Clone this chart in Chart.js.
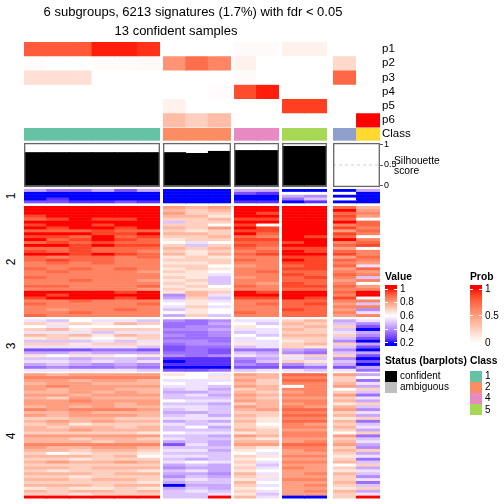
<!DOCTYPE html>
<html lang="en">
<head>
  <meta charset="UTF-8" />
  <title>Subgroup signatures heatmap</title>
  <script src="https://cdn.jsdelivr.net/npm/chart.js"></script>
  <style>
    body { margin: 0; background: #fff; font-family: "Liberation Sans", Arial, sans-serif; }
    #wrap { position: relative; width: 504px; height: 504px; overflow: hidden; }
    #wrap canvas { position: absolute; top: 0; }
    .t { position: absolute; white-space: nowrap; color: #000; line-height: 1; }
    .c { transform: translate(-50%, -50%); }
    .l { transform: translate(0, -50%); }
    .b { font-weight: bold; }
    .sw { position: absolute; }
  </style>
</head>
<body>
<div id="wrap"></div>

<script>
// ---- data ----
const sampleClass = [1, 1, 1, 1, 1, 1, 2, 2, 2, 4, 4, 5, 5, 3, 6];
const blockCols = [6, 3, 2, 2, 2];
const confident = [1, 1, 1, 1, 1, 1, 1, 1, 1, 1, 1, 1, 1, 0, 0];

const probNames = ["p1", "p2", "p3", "p4", "p5", "p6"];
const p1 = [0.8, 0.8, 0.8, 0.97, 0.97, 0.93, 0, 0, 0, 0.02, 0.02, 0.07, 0.07, 0, 0];
const p2 = [0.02, 0, 0, 0.015, 0.015, 0.03, 0.55, 0.72, 0.62, 0.07, 0, 0, 0, 0.2, 0];
const p3 = [0.17, 0.17, 0.17, 0, 0, 0, 0, 0, 0, 0.02, 0, 0, 0, 0.75, 0];
const p4 = [0, 0, 0, 0, 0, 0, 0, 0, 0.015, 0.85, 0.97, 0, 0, 0, 0];
const p5 = [0, 0, 0, 0, 0, 0, 0.07, 0, 0, 0, 0, 0.9, 0.9, 0, 0];
const p6 = [0, 0, 0, 0, 0, 0, 0.35, 0.25, 0.35, 0, 0, 0, 0, 0, 1];

const silhouette = [0.81, 0.81, 0.81, 0.81, 0.81, 0.81, 0.81, 0.79, 0.84, 0.86, 0.86, 0.96, 0.96, 0, 0];
const silTicks = [0, 0.5, 1];

const classColors = { 1: "#66C2A5", 2: "#FC8D62", 3: "#8DA0CB", 4: "#E78AC3", 5: "#A6D854", 6: "#FFD92F" };
const classLegend = [1, 2, 4, 5];
const valueTicks = [1, 0.8, 0.6, 0.4, 0.2];
const probTicks = [1, 0.5, 0];
const rowTitles = ["1", "2", "3", "4"];

// heatmap rows: one letter per sample, a = 0.20, b = 0.25 ... i = 0.60 ... q = 1.00
const heatRows1 = [
  "fddfcf aaa ff aa af",
  "aaaaaa aaa cb ii ia",
  "aaaaaa aaa aa fe aa",
  "abaaaa aaa aa dg ia",
  "ccbbcb aaa bb ab aa"
];
const heatRows2 = [
  "qqqqqq mlm qq qq ol",
  "qqqqqq lkl qq qq qm",
  "qqqqqq mkk qp qq on",
  "pqqqqq llj qq qq pm",
  "opqppq kkl pp qq oi",
  "qqqqqq gkk qq qq qo",
  "pqqpqq kki pi qq no",
  "qpqqpq lkm qp qq pn",
  "ooopoo kjk pp qq mo",
  "qqqppq llk qo qq pn",
  "ppoqop kkl on qp oi",
  "qopqpo jkk pp qq qn",
  "opopoo ihi oo pq no",
  "qqpqpp kgk po qq op",
  "oopooo lkl on pp mi",
  "popoon kjk no qp on",
  "qqpqpo ljl op qq pn",
  "onoono jkj nn pp mo",
  "opoonn kkk on qp on",
  "nononn jjk nn pp nm",
  "nnnnnn kki mn op oh",
  "ononon jkj nn pp mo",
  "nonnnm kji no oo nm",
  "nnnnnn jjh nn po on",
  "onnnnn kjg mn op ng",
  "nnonnm jkg nn oo mn",
  "nnnnnn kjg nm po ni",
  "oonnno jki on pp om",
  "nnnnnm kjj nn oo nn",
  "qqqqpq jlk qp qq oq",
  "qpqqqq elh qq qq nq",
  "pqqqpq fkg pp qp pi",
  "nnonnn hjh nn oo nn",
  "onnnno iji no op mg",
  "nnnnnn hkh nn oo nn",
  "nmnnon gji nn po me",
  "nnonnn iji on oo nh",
  "onnnnn fkg nn oo mn"
];
const heatRows3 = [
  "hgihhg ede hh kl fh",
  "kjkjlk ddf ig lk ge",
  "ihiiii dee ji kl kc",
  "kljkkk eef hh lk ga",
  "hhhghh dde gh kk hf",
  "lkljlk ede ig ll ke",
  "jkjijk ddd hi kk gc",
  "ggghgh eed hh jk ea",
  "kkjkkj dee jh kl kf",
  "hhhhhg cdd gh kj gc",
  "cccddc cdc dd fe ea",
  "ffgfff ddc gf ed gf",
  "jijjij ede hg jk kc",
  "ggfggf bbb ef hg ea",
  "hhghgh abb dg kj gc",
  "fgfefe bbb ed eg fa",
  "dedded aaa cc cd cf",
  "hhhhhg ccd gh hg hd"
];
const heatRows4 = [
  "mlmmmm jih ml oo mf",
  "nnnnnn iij ll nn ki",
  "mmlmml hhh mk oo kd",
  "lmmlll ihi lk nn lh",
  "mnmmmm hhg ml in mf",
  "mlmmll ghf kl nn ik",
  "llmlml ffg lk mn kg",
  "mmlmmm ghf ml nn md",
  "lkmlll ggg lk mm kh",
  "mmnmmm ihh ml nn lf",
  "mmmmlm ggf kl mn jk",
  "lmlmll hhg ml nm lg",
  "nmnnnm ghg lm oo me",
  "llmlll ffg kk nn kh",
  "mlmmml ghf lk oo lf",
  "kkllkk hhh kj nn jk",
  "lmlmll fgf lj oo ld",
  "kljkkk hgh ki nm kg",
  "lkllkl gif kj nn lh",
  "llmlll ggg lk mm kf",
  "kkkkkj ihh jk nn ik",
  "mmmmmm ggf ml nn md",
  "llkllk hgg kj mm kg",
  "lllkll fgf ll mn lh",
  "nnnnnn chf mm oo mf",
  "mllmml ggg kj nn ke",
  "llkllk hhf ji mn lk",
  "kijkkj ggg ih mm kf",
  "lllkli hhg kj nn jh",
  "kkjkkk gfg ji mm kd",
  "lmllml hih kh nn lg",
  "kkkkkk fgf jg mm ik",
  "llklll eff kh nm kf",
  "kjkkkj ghf ji mm jh",
  "lllkll ffe lh mn lg",
  "kkjkkk egf kj mm ke",
  "llkllk ghg jh nn kh",
  "kkkkkj fgg li mm ld",
  "lllkll aff kh mn kg",
  "jkjjkj fgf ji mm jk",
  "lkllkl ghg kh mn lf",
  "kkjkkk ggh jg mm kh",
  "qqqqqq ggq lh aa kq"
];

// ---- layout ----
const FONT = '"Liberation Sans", Arial, sans-serif';
const blockLeft = [24, 163, 234, 282, 333];
const blockWidth = [136, 68, 45, 45, 47];
const annTop = 42, annH = 14.25;
const classTop = 128, classBottom = 140.7;
const silPixTop = 144.3, silPixBottom = 185.7;
const groupBox = [[189, 203.3], [206, 317], [319.3, 371.7], [373.2, 498.5]];
const axisW = 22;
const seam = 0.5;   // overlap so neighbouring cells leave no hairline

// ---- colours (LAB interpolation like colorRamp2) ----
function hexToRgb(h) { return [1, 3, 5].map(i => parseInt(h.substr(i, 2), 16)); }
function lin(c) { c /= 255; return c <= 0.04045 ? c / 12.92 : Math.pow((c + 0.055) / 1.055, 2.4); }
function gam(c) {
  c = c <= 0.0031308 ? 12.92 * c : 1.055 * Math.pow(c, 1 / 2.4) - 0.055;
  return Math.round(Math.max(0, Math.min(1, c)) * 255);
}
function rgbToLab(rgb) {
  const [r, g, b] = rgb.map(lin);
  const x = (r * 0.4124564 + g * 0.3575761 + b * 0.1804375) / 0.95047;
  const y = r * 0.2126729 + g * 0.7151522 + b * 0.0721750;
  const z = (r * 0.0193339 + g * 0.1191920 + b * 0.9503041) / 1.08883;
  const f = t => t > 0.008856 ? Math.cbrt(t) : 7.787 * t + 16 / 116;
  return [116 * f(y) - 16, 500 * (f(x) - f(y)), 200 * (f(y) - f(z))];
}
function labToRgb([L, a, b]) {
  const fy = (L + 16) / 116, fx = fy + a / 500, fz = fy - b / 200;
  const fi = t => t * t * t > 0.008856 ? t * t * t : (t - 16 / 116) / 7.787;
  const x = fi(fx) * 0.95047, y = fi(fy), z = fi(fz) * 1.08883;
  return [
    3.2404542 * x - 1.5371385 * y - 0.4985314 * z,
    -0.9692660 * x + 1.8760108 * y + 0.0415560 * z,
    0.0556434 * x - 0.2040259 * y + 1.0572252 * z
  ].map(gam);
}
function makeRamp(breaks, hexes) {
  const labs = hexes.map(h => rgbToLab(hexToRgb(h)));
  return v => {
    v = Math.max(breaks[0], Math.min(breaks[breaks.length - 1], v));
    let i = 0;
    while (i < breaks.length - 2 && v > breaks[i + 1]) i++;
    const t = (v - breaks[i]) / (breaks[i + 1] - breaks[i]);
    const lab = labs[i].map((c, k) => c + (labs[i + 1][k] - c) * t);
    const rgb = labToRgb(lab);
    return "rgb(" + rgb.join(",") + ")";
  };
}
const heatColor = makeRamp([0.2, 0.6, 1], ["#0000FF", "#FFFFFF", "#FF0000"]);
const probColor = makeRamp([0, 1], ["#FFFFFF", "#FF0000"]);
const decode = ch => 0.2 + (ch.charCodeAt(0) - 97) * 0.05;

// ---- charts, one per column block ----
const wrap = document.getElementById("wrap");
const probRows = [p1, p2, p3, p4, p5, p6];
const heatGroups = [heatRows1, heatRows2, heatRows3, heatRows4];
const lastBlock = blockCols.length - 1;

// silhouette axis range so that 0..1 sits in the annotation box
const silPerUnit = silPixBottom - silPixTop;
const silMax = silPixBottom / silPerUnit;
const silMin = silMax - 504 / silPerUnit;

const silBox = {
  id: "silBox",
  beforeDatasetsDraw(chart) {
    const ys = chart.scales.ys, a = chart.chartArea, ctx = chart.ctx;
    ctx.save();
    ctx.strokeStyle = "#cfcfcf";
    ctx.lineWidth = 1;
    ctx.setLineDash([3, 3]);
    ctx.beginPath();
    const y = ys.getPixelForValue(0.5);
    ctx.moveTo(a.left, y);
    ctx.lineTo(a.right, y);
    ctx.stroke();
    ctx.restore();
  },
  afterDatasetsDraw(chart) {
    const ys = chart.scales.ys, a = chart.chartArea, ctx = chart.ctx;
    const y1 = ys.getPixelForValue(1), y0 = ys.getPixelForValue(0);
    ctx.save();
    ctx.strokeStyle = "#666";
    ctx.lineWidth = 1.3;
    ctx.strokeRect(a.left + 0.7, y1 - 0.7, a.right - a.left - 1.4, y0 - y1 + 1.4);
    ctx.restore();
  }
};

function bar(data, colors, axis) {
  return {
    data: data, backgroundColor: colors, yAxisID: axis || "y",
    grouped: false, barPercentage: 1.04, categoryPercentage: 1,
    borderWidth: 0, inflateAmount: 0
  };
}

let start = 0;
blockCols.forEach((n, b) => {
  const idx = Array.from({ length: n }, (_, k) => start + k);
  start += n;
  const datasets = [];
  const withAxis = b === lastBlock;

  // dataset 0 is painted last, so each row reaches a little up under the one before it
  probRows.forEach((vals, i) => {
    const top = annTop + i * annH - (i > 0 ? seam : 0);
    datasets.push(bar(idx.map(() => [top, annTop + (i + 1) * annH]),
                      idx.map(c => probColor(vals[c]))));
  });
  datasets.push(bar(idx.map(() => [classTop, classBottom]),
                    idx.map(c => classColors[sampleClass[c]])));
  datasets.push(bar(idx.map(c => silhouette[c]),
                    idx.map(c => confident[c] ? "#000000" : "#BEBEBE"), "ys"));

  heatGroups.forEach((rows, g) => {
    const [gTop, gBottom] = groupBox[g];
    const h = (gBottom - gTop) / rows.length;
    rows.forEach((s, r) => {
      const codes = s.replace(/ /g, "");
      const top = gTop + r * h - (r > 0 ? seam : 0);
      datasets.push(bar(idx.map(() => [top, gTop + (r + 1) * h]),
                        idx.map(c => heatColor(decode(codes[c])))));
    });
  });

  const canvas = document.createElement("canvas");
  const w = blockWidth[b] + (withAxis ? axisW : 0);
  canvas.width = w;
  canvas.height = 504;
  canvas.style.left = blockLeft[b] + "px";
  canvas.style.width = w + "px";
  canvas.style.height = "504px";
  wrap.appendChild(canvas);

  new Chart(canvas.getContext("2d"), {
    type: "bar",
    data: { labels: idx.map(c => "S" + (c + 1)), datasets: datasets },
    options: {
      responsive: false,
      animation: false,
      devicePixelRatio: 1,
      layout: { padding: 0 },
      plugins: { legend: { display: false }, tooltip: { enabled: false }, title: { display: false } },
      scales: {
        x: { type: "category", display: false, stacked: true, offset: true },
        y: { type: "linear", min: 0, max: 504, reverse: true, display: false },
        ys: {
          type: "linear", position: "right", min: silMin, max: silMax,
          display: withAxis,
          afterBuildTicks: s => { s.ticks = silTicks.map(v => ({ value: v })); },
          afterFit: s => {
            if (!withAxis) return;
            s.width = axisW; s.paddingTop = 0; s.paddingBottom = 0;
          },
          grid: { drawOnChartArea: false, drawTicks: true, tickLength: 3, color: "#333", lineWidth: 0.8 },
          border: { display: false },
          ticks: { font: { size: 9, family: FONT }, color: "#000", padding: 1, callback: v => String(v) }
        }
      }
    },
    plugins: [silBox]
  });
});

// ---- texts ----
function text(str, x, y, cls, size, extra) {
  const d = document.createElement("div");
  d.className = "t " + cls;
  d.textContent = str;
  d.style.left = x + "px";
  d.style.top = y + "px";
  d.style.fontSize = size + "px";
  if (extra) Object.assign(d.style, extra);
  wrap.appendChild(d);
  return d;
}
function box(x, y, w, h, bg) {
  const d = document.createElement("div");
  d.className = "sw";
  Object.assign(d.style, { left: x + "px", top: y + "px", width: w + "px", height: h + "px", background: bg });
  wrap.appendChild(d);
  return d;
}

text("6 subgroups, 6213 signatures (1.7%) with fdr < 0.05", 193, 11, "c", 13);
text("13 confident samples", 176, 29.5, "c", 13);

probNames.forEach((p, i) => text(p, 382, annTop + (i + 0.5) * annH, "l", 11.5));
text("Class", 382, (classTop + classBottom) / 2, "l", 11.5);
text("Silhouette", 394, 160.5, "l", 10.3);
text("score", 394, 171, "l", 10.3);

rowTitles.forEach((r, g) => {
  const [top, bottom] = groupBox[g];
  text(r, 11, (top + bottom) / 2, "c", 12, { transform: "translate(-50%,-50%) rotate(-90deg)" });
});

// colour bar legends
function gradientLegend(x, title, ticks, ramp, lo, hi) {
  const top = 285, bottom = 346, yHi = 289, yLo = 342.7;
  text(title, x, 277, "l b", 10.3);
  const stops = [];
  for (let k = 0; k <= 40; k++) {
    const y = top + (bottom - top) * k / 40;
    const v = hi - (y - yHi) / (yLo - yHi) * (hi - lo);
    stops.push(ramp(v) + " " + (k * 2.5) + "%");
  }
  box(x, top, 12, bottom - top, "linear-gradient(to bottom," + stops.join(",") + ")");
  ticks.forEach(v => {
    const y = yHi + (hi - v) / (hi - lo) * (yLo - yHi);
    box(x, y - 0.5, 3, 1, "#fff");
    box(x + 9, y - 0.5, 3, 1, "#fff");
    text(String(v), x + 15, y, "l", 10);
  });
}
gradientLegend(385, "Value", valueTicks, heatColor, 0.2, 1);
gradientLegend(470, "Prob", probTicks, probColor, 0, 1);

text("Status (barplots)", 385, 361, "l b", 10.3);
box(385, 370.5, 12, 11, "#000");
box(385, 381.5, 12, 11, "#BEBEBE");
text("confident", 400, 376, "l", 10);
text("ambiguous", 400, 387, "l", 10);

text("Class", 470, 361, "l b", 10.3);
classLegend.forEach((c, i) => {
  box(470, 370.5 + i * 11.2, 12, 11, classColors[c]);
  text(String(c), 485, 376 + i * 11.2, "l", 10);
});
</script>
</body>
</html>
